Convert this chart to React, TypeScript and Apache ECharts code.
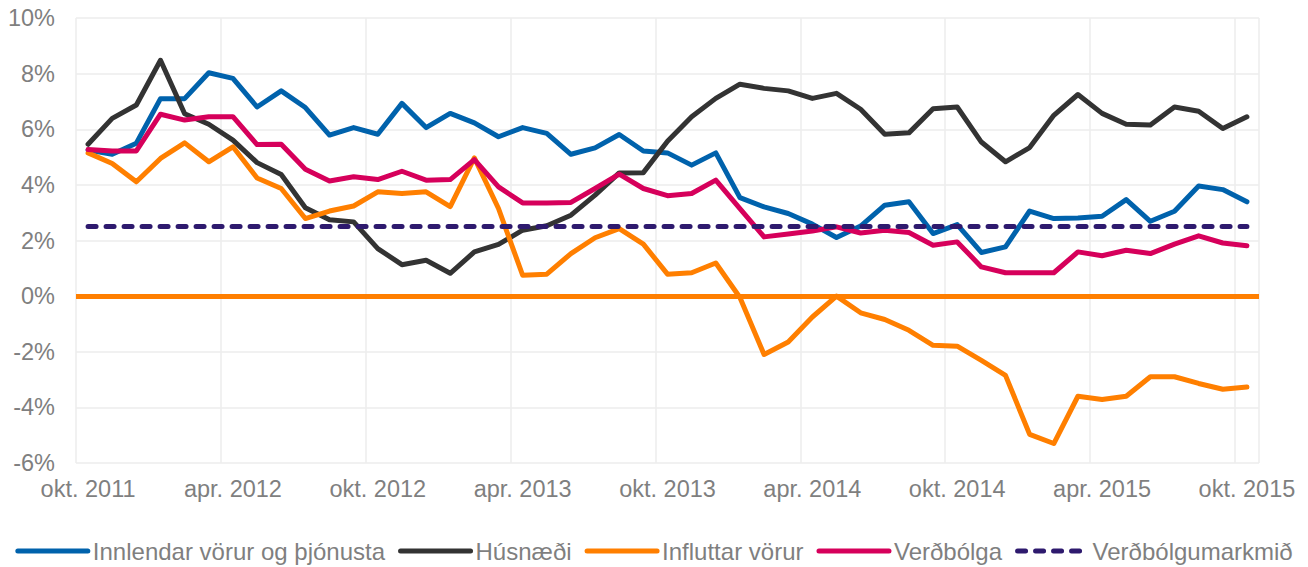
import React, { useEffect, useRef } from "react";
import * as echarts from "echarts";

const monthNames = ["okt.", "nóv.", "des.", "jan.", "feb.", "mar.", "apr.", "maí", "jún.", "júl.", "ágú.", "sep."];
const startYear = 2011;
const categories: string[] = [];
for (let i = 0; i < 49; i++) {
  const year = startYear + Math.floor((i + 9) / 12);
  categories.push(`${monthNames[i % 12]} ${year}`);
}

const innlendar = [5.25, 5.1, 5.5, 7.1, 7.1, 8.03, 7.83, 6.8, 7.38, 6.78, 5.79, 6.06, 5.82, 6.93, 6.06, 6.57, 6.23, 5.73, 6.06, 5.85, 5.1, 5.33, 5.81, 5.22, 5.15, 4.71, 5.15, 3.54, 3.21, 2.97, 2.59, 2.11, 2.52, 3.27, 3.39, 2.25, 2.57, 1.57, 1.77, 3.06, 2.79, 2.81, 2.87, 3.47, 2.69, 3.05, 3.96, 3.83, 3.39];
const husnaedi = [5.46, 6.39, 6.87, 8.48, 6.56, 6.18, 5.61, 4.8, 4.37, 3.18, 2.75, 2.67, 1.71, 1.13, 1.29, 0.82, 1.59, 1.86, 2.37, 2.53, 2.91, 3.63, 4.43, 4.44, 5.57, 6.45, 7.11, 7.62, 7.47, 7.38, 7.11, 7.29, 6.72, 5.82, 5.87, 6.74, 6.8, 5.54, 4.83, 5.34, 6.5, 7.25, 6.57, 6.18, 6.15, 6.8, 6.65, 6.03, 6.45];
const influttar = [5.15, 4.77, 4.11, 4.95, 5.51, 4.83, 5.37, 4.25, 3.87, 2.79, 3.06, 3.24, 3.75, 3.69, 3.75, 3.22, 4.97, 3.15, 0.75, 0.79, 1.53, 2.1, 2.43, 1.87, 0.79, 0.84, 1.19, -0.05, -2.1, -1.65, -0.75, 0.0, -0.6, -0.84, -1.23, -1.77, -1.8, -2.31, -2.85, -4.97, -5.3, -3.6, -3.72, -3.6, -2.9, -2.9, -3.14, -3.35, -3.27];
const verdbolga = [5.27, 5.22, 5.22, 6.54, 6.33, 6.45, 6.45, 5.45, 5.46, 4.56, 4.14, 4.29, 4.19, 4.49, 4.17, 4.19, 4.91, 3.93, 3.35, 3.35, 3.37, 3.87, 4.39, 3.87, 3.61, 3.69, 4.17, 3.15, 2.13, 2.23, 2.34, 2.49, 2.27, 2.37, 2.29, 1.83, 1.95, 1.05, 0.84, 0.84, 0.84, 1.59, 1.45, 1.65, 1.53, 1.87, 2.17, 1.91, 1.81];
const markmid = [2.5, 2.5, 2.5, 2.5, 2.5, 2.5, 2.5, 2.5, 2.5, 2.5, 2.5, 2.5, 2.5, 2.5, 2.5, 2.5, 2.5, 2.5, 2.5, 2.5, 2.5, 2.5, 2.5, 2.5, 2.5, 2.5, 2.5, 2.5, 2.5, 2.5, 2.5, 2.5, 2.5, 2.5, 2.5, 2.5, 2.5, 2.5, 2.5, 2.5, 2.5, 2.5, 2.5, 2.5, 2.5, 2.5, 2.5, 2.5, 2.5];

const seriesNames = ["Innlendar vörur og þjónusta", "Húsnæði", "Influttar vörur", "Verðbólga", "Verðbólgumarkmið"];
const seriesColors = ["#0062AC", "#333333", "#FF7F00", "#D6005B", "#2E1A6E"];

const FONT = "'Liberation Sans', Arial, sans-serif";
const GREY = "#7f7f7f";

export default function App() {
  const ref = useRef<HTMLDivElement>(null);
  useEffect(() => {
    if (!ref.current) return;
    const chart = echarts.init(ref.current, undefined, { renderer: "svg" });
    const datas = [innlendar, husnaedi, influttar, verdbolga, markmid];
    const series: any[] = datas.map((d, k) => ({
      name: seriesNames[k],
      type: "line",
      data: d,
      symbol: "none",
      showSymbol: false,
      z: 3 + k,
      lineStyle: {
        color: seriesColors[k],
        width: 5,
        type: k === 4 ? [8, 10] : "solid",
        cap: "round",
        join: "round",
      },
      itemStyle: { color: seriesColors[k] },
    }));
    series[2].markLine = {
      silent: true,
      symbol: ["none", "none"],
      label: { show: false },
      lineStyle: { color: "#FF7F00", width: 5, type: "solid" },
      data: [{ yAxis: 0 }],
      z: 2,
    };
    chart.setOption({
      animation: false,
      grid: { left: 76, right: 49, top: 18, bottom: 104, containLabel: false },
      legend: {
        data: seriesNames,
        left: "center",
        top: 534,
        itemWidth: 70,
        itemHeight: 14,
        itemGap: 13,
        itemStyle: { opacity: 0 },
        lineStyle: { width: 5, cap: "round" },
        textStyle: { fontSize: 24, color: GREY, fontFamily: FONT },
      },
      xAxis: {
        type: "category",
        data: categories,
        boundaryGap: true,
        axisLine: { show: false },
        axisTick: { show: false },
        axisLabel: {
          interval: (i: number) => i % 6 === 0,
          fontSize: 23.5,
          color: GREY,
          fontFamily: FONT,
          margin: 14,
        },
        splitLine: {
          show: true,
          interval: (i: number) => i % 6 === 0,
          lineStyle: { color: "#ececec", width: 1.5 },
        },
      },
      yAxis: {
        type: "value",
        min: -6,
        max: 10,
        interval: 2,
        axisLine: { show: false },
        axisTick: { show: false },
        axisLabel: {
          formatter: "{value}%",
          fontSize: 23.5,
          color: GREY,
          fontFamily: FONT,
          margin: 21,
        },
        splitLine: { lineStyle: { color: "#ececec", width: 1.5 } },
      },
      series,
    });
    return () => chart.dispose();
  }, []);
  return (
    <div
      ref={ref}
      style={{ position: "fixed", left: 0, top: 0, width: 1308, height: 567, background: "#fff" }}
    />
  );
}
